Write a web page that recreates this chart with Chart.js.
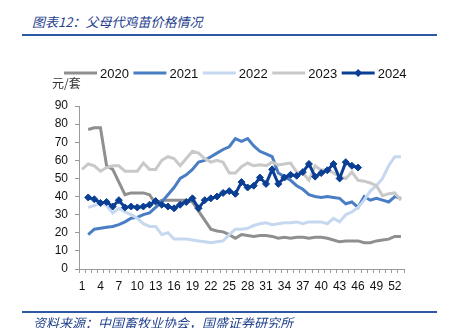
<!DOCTYPE html>
<html>
<head>
<meta charset="utf-8">
<script src="https://cdn.jsdelivr.net/npm/chart.js@4.4.1/dist/chart.umd.min.js"></script>
<style>
  html, body { margin: 0; padding: 0; background: #fff; }
  #wrap { position: relative; width: 449px; height: 328px; overflow: hidden; }
  #chart { position: absolute; left: 0; top: 0; }
  .title { position: absolute; left: 32px; top: 12px; font: italic 13px "Noto Sans CJK SC", sans-serif; color: #1f418d; white-space: nowrap; }
  .rule { position: absolute; left: 22px; width: 415px; height: 2px; background: #2b58a4; }
  .source { position: absolute; left: 33px; top: 313px; font: italic 13px "Noto Sans CJK SC", sans-serif; color: #1f418d; white-space: nowrap; }
</style>
</head>
<body>
<div id="wrap">
  <div class="title">图表12：父母代鸡苗价格情况</div>
  <div class="rule" style="top:34px"></div>
  <canvas id="chart" width="449" height="328"></canvas>
  <div class="rule" style="top:311px"></div>
  <div class="source">资料来源：中国畜牧业协会，国盛证券研究所</div>
</div>
<script>
// weeks of the year
const weeks = [1, 2, 3, 4, 5, 6, 7, 8, 9, 10, 11, 12, 13, 14, 15, 16, 17, 18, 19, 20,
  21, 22, 23, 24, 25, 26, 27, 28, 29, 30, 31, 32, 33, 34, 35, 36, 37, 38, 39, 40,
  41, 42, 43, 44, 45, 46, 47, 48, 49, 50, 51, 52, 53];
const seriesNames = ['2020', '2021', '2022', '2023', '2024'];
const yTicks = [0, 10, 20, 30, 40, 50, 60, 70, 80, 90];
const unitLabel = '元/套';

// price per set, by week (null = no data that week)
const p2020 = [null, 77, 78, 78, 57, 55, 48, 41, 42, 42, 42, 41, 36, 38, 38, 38, 38, 38, 37, 32,
  27, 22, 21, 20.5, 19, 17, 19, 18.5, 18, 18.5, 18.5, 18, 17, 17.5, 17, 17.5, 17.5, 17, 17.5, 17.5,
  17, 16, 15, 15.5, 15.5, 15.5, 14.5, 14.5, 15.5, 16, 16.5, 18, 18];
const p2021 = [null, 19, 22, 22.5, 23, 23.5, 24.5, 26, 28, 28.5, 30, 31, 34, 37, 41, 45, 50, 52, 55, 59,
  60, 62, 64, 66, 67.5, 72, 70.5, 72, 68, 65, 63.5, 62, 53, 51, 49, 46, 44, 41, 40, 39.5,
  40, 39.5, 39, 36, 37, 34, 40, 38, 39, 38, 37, 40, 39];
const p2022 = [null, 34, 35, 36.5, 35, 31, 33.5, 31.5, 30, 28, 25, 23.5, 23.5, 19, 20, 16.5, 16.5, 16.5, 16, 15.5,
  15, 14.5, 15, 15.5, 19, 22, 22, 22.5, 24, 25, 25.5, 24.5, 25, 25.5, 25.5, 26, 25, 26, 26, 26,
  25, 28, 26, 30, 31.5, 34, 38, 43, 46, 50, 57, 62, 62];
const p2023 = [55, 58, 57, 54, 56, 57, 57, 54, 54, 54, 58.5, 55, 55, 60, 62, 61, 57, 61, 65, 64,
  61, 59, 60, 59, 53, 53, 56.5, 58.5, 57, 57.5, 57, 59, 57.5, 58, 58.5, 53.5, 53, 49, 57, 54.5,
  55, 53, 51, 50, 53.5, 49, 48.5, 47.5, 46, 40.5, 41.5, 42, 38];
const p2024 = [null, 39.5, 38.5, 36.5, 37, 34.5, 38, 34, 34.5, 34, 34.5, 35.5, 37.5, 35.5, 34.5, 33.5, 35.5, 37, 39, 33.5,
  38, 39, 40, 42, 43, 41.5, 48, 45, 46, 50.5, 47, 55, 47, 50.5, 52, 51.5, 53.5, 58, 51, 53,
  54.5, 58, 50, 59, 57, 56];

const colors = ['#8f8f8f', '#4a7ec4', '#c5d8f0', '#c9c9c9', '#0b3f94'];
const axisColor = '#9a9a9a';

function lineSet(i, data) {
  return {
    label: seriesNames[i],
    data: data,
    borderColor: colors[i],
    backgroundColor: colors[i],
    borderWidth: 3,
    pointRadius: 0,
    tension: 0,
    order: 5 - i
  };
}

const datasets = [
  lineSet(0, p2020),
  lineSet(1, p2021),
  lineSet(2, p2022),
  lineSet(3, p2023),
  Object.assign(lineSet(4, p2024), { pointRadius: 3.5, pointStyle: 'rectRot', pointBorderWidth: 1 })
];

// legend + unit text drawn on the canvas
const legendPlugin = {
  id: 'lineLegend',
  afterDraw(chart) {
    const ctx = chart.ctx;
    ctx.save();
    ctx.font = '13px "Liberation Sans", Arial, sans-serif';
    ctx.textBaseline = 'middle';
    const y = 73;
    let x = 64;
    chart.data.datasets.forEach((ds, i) => {
      ctx.strokeStyle = ds.borderColor;
      ctx.lineWidth = 3;
      ctx.beginPath();
      ctx.moveTo(x, y);
      ctx.lineTo(x + 33, y);
      ctx.stroke();
      if (ds.pointStyle === 'rectRot') {
        ctx.fillStyle = ds.borderColor;
        ctx.beginPath();
        ctx.moveTo(x + 16.5, y - 4);
        ctx.lineTo(x + 20.5, y);
        ctx.lineTo(x + 16.5, y + 4);
        ctx.lineTo(x + 12.5, y);
        ctx.closePath();
        ctx.fill();
      }
      ctx.fillStyle = '#111';
      ctx.fillText(ds.label, x + 36, y + 1);
      x += 36 + ctx.measureText(ds.label).width + 4.5;
    });
    ctx.font = '12px "Noto Sans CJK SC", sans-serif';
    ctx.fillStyle = '#333';
    ctx.fillText(unitLabel, 52, 83);
    ctx.restore();
  }
};

new Chart(document.getElementById('chart'), {
  type: 'line',
  data: { labels: weeks, datasets: datasets },
  options: {
    responsive: false,
    animation: false,
    layout: { padding: { top: 106, right: 45, bottom: 0, left: 0 } },
    plugins: { legend: { display: false }, tooltip: { enabled: false } },
    scales: {
      x: {
        offset: true,
        afterFit: s => { s.height = 59; },
        border: { color: axisColor, width: 1 },
        grid: { drawOnChartArea: false, color: axisColor, tickLength: 4, offset: true },
        ticks: {
          autoSkip: false,
          maxRotation: 0,
          padding: 6,
          color: '#111',
          font: { family: '"Liberation Sans", Arial, sans-serif', size: 12 },
          callback: (v, i) => (i % 3 === 0 ? String(weeks[i]) : '')
        }
      },
      y: {
        min: yTicks[0],
        max: yTicks[yTicks.length - 1],
        afterFit: s => { s.width = 79; },
        afterBuildTicks: s => { s.ticks = yTicks.map(v => ({ value: v })); },
        border: { color: axisColor, width: 1 },
        grid: { drawOnChartArea: false, color: axisColor, tickLength: 4 },
        ticks: {
          padding: 7,
          color: '#111',
          font: { family: '"Liberation Sans", Arial, sans-serif', size: 12 }
        }
      }
    }
  },
  plugins: [legendPlugin]
});
</script>
</body>
</html>
